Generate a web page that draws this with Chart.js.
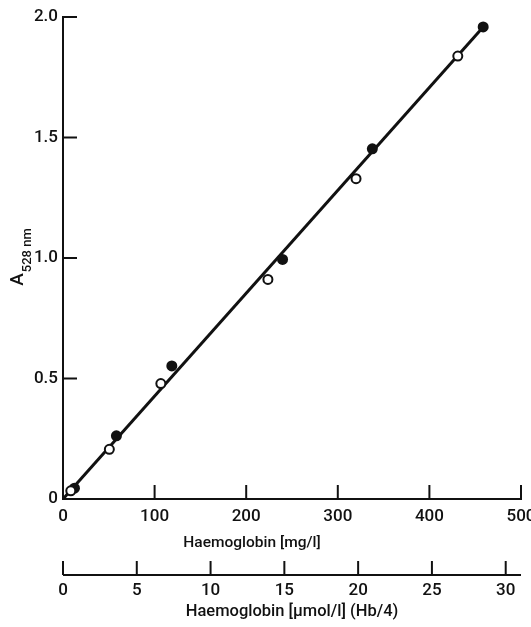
<!DOCTYPE html>
<html><head><meta charset="utf-8">
<script src="https://cdn.jsdelivr.net/npm/chart.js@4/dist/chart.umd.min.js"></script>
<style>html,body{margin:0;padding:0;background:#fff}#wrap{width:531px;height:627px;position:relative}</style>
</head><body><div id="wrap"><canvas id="c" width="531" height="627"></canvas></div>
<script>
// ---- data ----
const openX   = [8.5, 50.6, 106.8, 223.7, 319.9, 431.0];
const openY   = [0.034, 0.206, 0.479, 0.911, 1.329, 1.838];
const filledX = [12.5, 58.3, 118.8, 239.7, 337.7, 458.7];
const filledY = [0.045, 0.262, 0.552, 0.994, 1.453, 1.959];
const fitX = [0, 459];
const fitY = [0, 1.96];

const xTicks = [0, 100, 200, 300, 400, 500];
const xTickLabels = ['0', '100', '200', '300', '400', '500'];
const yTicks = [0, 0.5, 1.0, 1.5, 2.0];
const yTickLabels = ['0', '0.5', '1.0', '1.5', '2.0'];
const x2Ticks = [0, 5, 10, 15, 20, 25, 30];
const x2TickLabels = ['0', '5', '10', '15', '20', '25', '30'];
const MG_PER_UMOL = 16.11;

const xTitle = 'Haemoglobin [mg/l]';
const x2Title = 'Haemoglobin [µmol/l] (Hb/4)';
const yTitleMain = 'A';
const yTitleSub = '528 nm';

const FONT = 'Roboto, "Liberation Sans", Arial, sans-serif';
const INK = '#111';

const toPts = (xs, ys) => xs.map((x, i) => ({x: x, y: ys[i]}));
const labelFor = (vals, labels) => (v) => { const i = vals.indexOf(v); return i >= 0 ? labels[i] : ''; };

const axesPlugin = {
  id: 'axesPlugin',
  afterDraw(chart) {
    const ctx = chart.ctx;
    const x = chart.scales.x, y = chart.scales.y, x2 = chart.scales.x2;
    const x0 = x.getPixelForValue(0), y0 = y.getPixelForValue(0);
    ctx.save();
    ctx.strokeStyle = INK;
    ctx.lineWidth = 2;
    ctx.lineCap = 'butt';
    // y axis
    ctx.beginPath();
    ctx.moveTo(x0, y.getPixelForValue(2.0) - 1);
    ctx.lineTo(x0, y0 + 1);
    ctx.stroke();
    yTicks.forEach(v => {
      if (v === 0) return;
      const py = y.getPixelForValue(v);
      ctx.beginPath(); ctx.moveTo(x0, py); ctx.lineTo(x0 + 14, py); ctx.stroke();
    });
    // x axis
    ctx.beginPath();
    ctx.moveTo(x0 - 1, y0);
    ctx.lineTo(x.getPixelForValue(500) + 1, y0);
    ctx.stroke();
    xTicks.forEach(v => {
      if (v === 0) return;
      const px = x.getPixelForValue(v);
      ctx.beginPath(); ctx.moveTo(px, y0); ctx.lineTo(px, y0 - 14); ctx.stroke();
    });
    // secondary x axis (µmol/l)
    const ly = x2.top + 20;
    ctx.beginPath();
    ctx.moveTo(x2.getPixelForValue(0), ly);
    ctx.lineTo(x2.getPixelForValue(500 / MG_PER_UMOL), ly);
    ctx.stroke();
    x2Ticks.forEach(v => {
      const px = x2.getPixelForValue(v);
      ctx.beginPath(); ctx.moveTo(px, ly); ctx.lineTo(px, ly - 14); ctx.stroke();
    });
    // axis titles
    ctx.fillStyle = INK;
    ctx.textBaseline = 'middle';
    ctx.textAlign = 'center';
    ctx.font = '500 15.5px ' + FONT;
    ctx.fillText(xTitle, 252, 543);
    ctx.font = '500 16.5px ' + FONT;
    ctx.fillText(x2Title, 292, 612);
    // y title with subscript, rotated
    ctx.save();
    ctx.translate(23, 257);
    ctx.rotate(-Math.PI / 2);
    ctx.textBaseline = 'alphabetic';
    ctx.textAlign = 'left';
    ctx.font = '500 19px ' + FONT;
    const wA = ctx.measureText(yTitleMain).width;
    ctx.font = '500 13px ' + FONT;
    const wS = ctx.measureText(yTitleSub).width;
    const start = -(wA + 1 + wS) / 2;
    ctx.font = '500 19px ' + FONT;
    ctx.fillText(yTitleMain, start, 0);
    ctx.font = '500 13px ' + FONT;
    ctx.fillText(yTitleSub, start + wA + 1, 8);
    ctx.restore();
    ctx.restore();
  }
};

const tickFont = {family: FONT, size: 17, weight: '500'};
const zeroSidePad = s => { s.paddingLeft = 0; s.paddingRight = 0; };

new Chart(document.getElementById('c'), {
  type: 'scatter',
  data: {
    datasets: [
      {
        label: 'open', data: toPts(openX, openY), order: 1,
        pointStyle: 'circle', pointRadius: 4.5, pointHoverRadius: 4.5,
        pointBackgroundColor: '#fff', pointBorderColor: INK, pointBorderWidth: 2
      },
      {
        label: 'filled', data: toPts(filledX, filledY), order: 2,
        pointStyle: 'circle', pointRadius: 5.5, pointHoverRadius: 5.5,
        pointBackgroundColor: INK, pointBorderColor: INK, pointBorderWidth: 0
      },
      {
        type: 'line', label: 'fit', data: toPts(fitX, fitY), order: 3,
        borderColor: INK, borderWidth: 3, pointRadius: 0, fill: false, tension: 0
      }
    ]
  },
  options: {
    responsive: false,
    animation: false,
    devicePixelRatio: 1,
    events: [],
    layout: {padding: {left: 0, right: 10, top: 17, bottom: 0}, autoPadding: false},
    plugins: {legend: {display: false}, tooltip: {enabled: false}},
    scales: {
      x: {
        type: 'linear', position: 'bottom', min: 0, max: 500, weight: 0,
        afterBuildTicks: s => { s.ticks = xTicks.map(v => ({value: v})); },
        afterFit: s => { s.height = 56; zeroSidePad(s); },
        grid: {display: false, drawTicks: false}, border: {display: false},
        ticks: {callback: labelFor(xTicks, xTickLabels), padding: 8, maxRotation: 0, autoSkip: false, font: tickFont, color: INK}
      },
      x2: {
        type: 'linear', position: 'bottom', min: 0, max: 500 / MG_PER_UMOL, weight: 1,
        afterBuildTicks: s => { s.ticks = x2Ticks.map(v => ({value: v})); },
        afterFit: s => { s.height = 72; zeroSidePad(s); },
        grid: {display: false, drawTicks: false}, border: {display: false},
        ticks: {callback: labelFor(x2Ticks, x2TickLabels), padding: 26, maxRotation: 0, autoSkip: false, font: tickFont, color: INK}
      },
      y: {
        type: 'linear', position: 'left', min: 0, max: 2.0,
        afterBuildTicks: s => { s.ticks = yTicks.map(v => ({value: v})); },
        afterFit: s => { s.width = 63; s.paddingTop = 0; s.paddingBottom = 0; },
        grid: {display: false, drawTicks: false}, border: {display: false},
        ticks: {callback: labelFor(yTicks, yTickLabels), padding: 5, autoSkip: false, font: tickFont, color: INK}
      }
    }
  },
  plugins: [axesPlugin]
});
</script>
</body></html>
